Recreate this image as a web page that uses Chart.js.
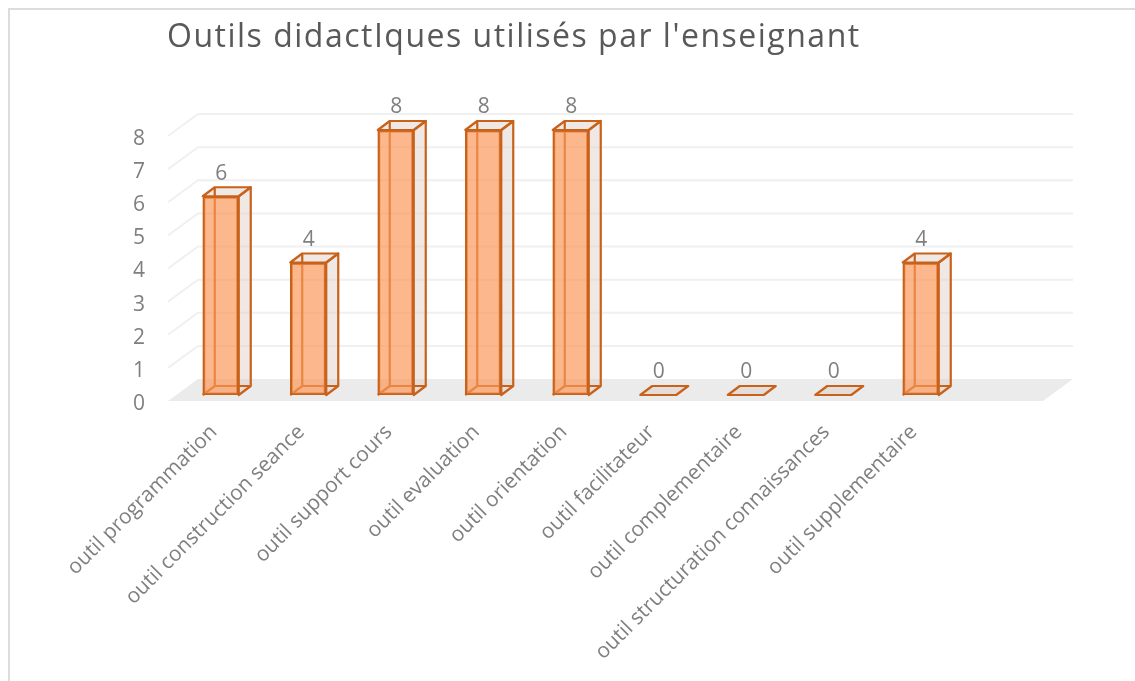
<!DOCTYPE html>
<html><head><meta charset="utf-8">
<script src="https://cdn.jsdelivr.net/npm/chart.js@4"></script>
<style>html,body{margin:0;padding:0;background:#fff;overflow:hidden}canvas{display:block}</style>
</head><body>
<div style="width:1135px;height:681px"><canvas id="c" width="1135" height="681"></canvas></div>
<script>
const titleText = "Outils didactIques utilisés par l'enseignant";
// The last, unnamed category is an empty slot kept by the original plot.
const categories = ["outil programmation","outil construction seance","outil support cours","outil evaluation","outil orientation","outil facilitateur","outil complementaire","outil structuration connaissances","outil supplementaire",""];
const values = [6,4,8,8,8,0,0,0,4,null];
const yTicks = [0,1,2,3,4,5,6,7,8];

const FONT = "'Open Sans', sans-serif";
const DX = 12, DY = -9;
const STROKE = '#c8621b', SIDE = 'rgba(222,205,195,0.45)';

const scene = {
  id: 'scene',
  beforeDraw(chart) {
    const {ctx} = chart;
    ctx.save();
    ctx.strokeStyle = '#dcdcdc'; ctx.lineWidth = 2;
    ctx.beginPath();
    ctx.moveTo(9, 700); ctx.lineTo(9, 9); ctx.lineTo(1135, 9);
    ctx.stroke();
    ctx.restore();
  },
  beforeDatasetsDraw(chart) {
    const {ctx, scales: {x, y}} = chart;
    const L = x.left, R = x.right;
    ctx.save();
    ctx.strokeStyle = '#f0f0f0'; ctx.lineWidth = 2;
    yTicks.forEach(t => {
      if (t === 0) return;
      const p = y.getPixelForValue(t);
      ctx.beginPath();
      ctx.moveTo(L - 9, p + 6); ctx.lineTo(L + 21, p - 16); ctx.lineTo(R + 21, p - 16);
      ctx.stroke();
    });
    const b = y.getPixelForValue(0);
    ctx.fillStyle = '#ebebeb';
    ctx.beginPath();
    ctx.moveTo(L - 9, b + 6); ctx.lineTo(L + 21, b - 16); ctx.lineTo(R + 21, b - 16); ctx.lineTo(R - 9, b + 6);
    ctx.closePath(); ctx.fill();
    chart.getDatasetMeta(0).data.forEach((el, i) => {
      if (values[i] === null) return;
      const xl = el.x - el.width / 2, xr = el.x + el.width / 2, t = el.y, bs = b;
      ctx.lineJoin = 'round';
      ctx.fillStyle = SIDE;
      ctx.strokeStyle = STROKE; ctx.lineWidth = 2.2;
      if (values[i] > 0) {
        ctx.beginPath();
        ctx.moveTo(xr, t); ctx.lineTo(xr + DX, t + DY); ctx.lineTo(xr + DX, bs + DY); ctx.lineTo(xr, bs);
        ctx.closePath(); ctx.fill(); ctx.stroke();
      }
      ctx.beginPath();
      ctx.moveTo(xl, t); ctx.lineTo(xl + DX, t + DY); ctx.lineTo(xr + DX, t + DY); ctx.lineTo(xr, t);
      ctx.closePath(); ctx.fill(); ctx.stroke();
      if (values[i] > 0) {
        ctx.beginPath();
        ctx.moveTo(xl, bs); ctx.lineTo(xl + DX, bs + DY); ctx.lineTo(xr + DX, bs + DY);
        ctx.moveTo(xl + DX, t + DY); ctx.lineTo(xl + DX, bs + DY);
        ctx.stroke();
      }
    });
    ctx.restore();
  },
  afterDatasetsDraw(chart) {
    const {ctx, scales: {y}} = chart;
    ctx.save();
    ctx.font = "21px " + FONT;
    ctx.fillStyle = '#7f7f7f';
    ctx.textAlign = 'center'; ctx.textBaseline = 'middle';
    chart.getDatasetMeta(0).data.forEach((el, i) => {
      if (values[i] === null) return;
      ctx.fillText(String(values[i]), el.x + 0.5, y.getPixelForValue(values[i]) - 22.5);
    });
    ctx.restore();
  },
  afterLayout(chart) {
    const tb = chart.titleBlock;
    if (tb && !tb._spaced) {
      const d = tb.draw.bind(tb);
      tb.draw = function () {
        const c = chart.ctx; c.save(); c.letterSpacing = '1.5px'; c.translate(-10, 0); d(); c.restore();
      };
      tb._spaced = true;
    }
  }
};

new Chart(document.getElementById('c'), {
  type: 'bar',
  data: { labels: categories, datasets: [{
    data: values,
    barThickness: 36,
    backgroundColor: 'rgba(250,150,85,0.68)',
    borderColor: STROKE,
    borderWidth: 2.2,
    borderSkipped: false
  }]},
  plugins: [scene],
  options: {
    responsive: false, animation: false,
    layout: { padding: { left: 117, right: 83, top: 0, bottom: 0 } },
    plugins: {
      legend: { display: false }, tooltip: { enabled: false },
      title: {
        display: true, text: titleText, align: 'start', fullSize: false,
        color: '#595959',
        font: { family: FONT, size: 32, weight: '400', lineHeight: 1.2 },
        padding: { top: 19, bottom: 72.6 }
      }
    },
    scales: {
      x: {
        offset: true,
        grid: { display: false, drawTicks: false }, border: { display: false },
        afterFit(s) { s.height = 286; },
        ticks: { autoSkip: false, minRotation: 45, maxRotation: 45, padding: 25, labelOffset: -7,
          color: '#7f7f7f', font: { family: FONT, size: 20.8 } }
      },
      y: {
        min: 0, max: 8,
        grid: { display: false, drawTicks: false }, border: { display: false },
        afterFit(s) { s.width = 60; },
        ticks: { stepSize: 1, padding: 32, labelOffset: 9, color: '#7f7f7f', font: { family: FONT, size: 21 } }
      }
    }
  }
});
</script>
</body></html>
